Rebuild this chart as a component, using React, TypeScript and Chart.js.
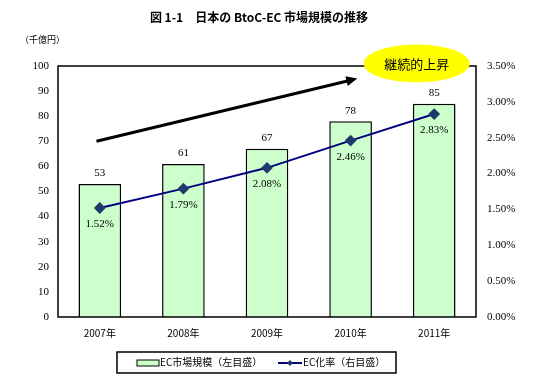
import React, { useEffect, useRef } from "react";
import { Chart, registerables } from "chart.js";

Chart.register(...registerables);

const categories = ["2007年", "2008年", "2009年", "2010年", "2011年"];
const marketSize = [53, 61, 67, 78, 85];
const ecRate = [1.52, 1.79, 2.08, 2.46, 2.83];
const titleText = "図 1-1　日本の BtoC-EC 市場規模の推移";
const unitText = "（千億円）";
const barLegend = "EC市場規模（左目盛）";
const lineLegend = "EC化率（右目盛）";
const calloutText = "継続的上昇";
// arrow annotation in data coordinates (category index, left-axis value)
const arrowStart = { x: -0.04, y: 70 };
const arrowEnd = { x: 3.08, y: 95 };
const calloutCenter = { x: 3.79, y: 101 };

const SERIF = "'Liberation Serif', 'Noto Sans CJK JP', serif";
const GOTHIC = "'Noto Sans CJK JP', sans-serif";

const decorPlugin = {
  id: "decor",
  afterDraw(chart: any) {
    const ctx = chart.ctx;
    const a = chart.chartArea;
    const xs = chart.scales.x;
    const yl = chart.scales.y;
    ctx.save();
    // plot border
    ctx.strokeStyle = "#000";
    ctx.lineWidth = 1.5;
    ctx.strokeRect(a.left, a.top, a.right - a.left, a.bottom - a.top);

    // title & unit
    ctx.fillStyle = "#000";
    ctx.font = "bold 12px " + GOTHIC;
    ctx.textAlign = "center";
    ctx.textBaseline = "middle";
    ctx.fillText(titleText, 259, 17);
    ctx.font = "9px " + GOTHIC;
    ctx.textAlign = "left";
    ctx.fillText(unitText, 20, 40);

    // bar value labels
    const barMeta = chart.getDatasetMeta(0);
    ctx.font = "11px " + SERIF;
    ctx.textAlign = "center";
    ctx.textBaseline = "bottom";
    barMeta.data.forEach((el: any, i: number) => {
      ctx.fillText(String(marketSize[i]), el.x, el.y - 5);
    });
    // line value labels
    const lineMeta = chart.getDatasetMeta(1);
    ctx.textBaseline = "top";
    lineMeta.data.forEach((el: any, i: number) => {
      ctx.fillText(ecRate[i].toFixed(2) + "%", el.x, el.y + 11);
    });

    // arrow
    const x1 = xs.getPixelForValue(arrowStart.x);
    const y1 = yl.getPixelForValue(arrowStart.y);
    const x2 = xs.getPixelForValue(arrowEnd.x);
    const y2 = yl.getPixelForValue(arrowEnd.y);
    const ang = Math.atan2(y2 - y1, x2 - x1);
    ctx.strokeStyle = "#000";
    ctx.lineWidth = 3;
    ctx.beginPath();
    ctx.moveTo(x1, y1);
    ctx.lineTo(x2 - 8 * Math.cos(ang), y2 - 8 * Math.sin(ang));
    ctx.stroke();
    ctx.fillStyle = "#000";
    ctx.beginPath();
    ctx.moveTo(x2, y2);
    ctx.lineTo(x2 - 11 * Math.cos(ang) + 5 * Math.sin(ang), y2 - 11 * Math.sin(ang) - 5 * Math.cos(ang));
    ctx.lineTo(x2 - 11 * Math.cos(ang) - 5 * Math.sin(ang), y2 - 11 * Math.sin(ang) + 5 * Math.cos(ang));
    ctx.closePath();
    ctx.fill();

    // callout ellipse
    const cx = xs.getPixelForValue(calloutCenter.x);
    const cy = yl.getPixelForValue(calloutCenter.y);
    ctx.fillStyle = "#ffff00";
    ctx.beginPath();
    ctx.ellipse(cx, cy, 53, 19, 0, 0, Math.PI * 2);
    ctx.fill();
    ctx.fillStyle = "#000";
    ctx.font = "13px " + GOTHIC;
    ctx.textAlign = "center";
    ctx.textBaseline = "middle";
    ctx.fillText(calloutText, cx, cy + 1);

    // legend
    ctx.strokeStyle = "#000";
    ctx.lineWidth = 1.5;
    ctx.strokeRect(117, 352, 279, 21);
    ctx.fillStyle = "#ccffcc";
    ctx.fillRect(137, 360, 22, 6);
    ctx.lineWidth = 1;
    ctx.strokeRect(137, 360, 22, 6);
    ctx.fillStyle = "#000";
    ctx.font = "10px " + GOTHIC;
    ctx.textAlign = "left";
    ctx.textBaseline = "middle";
    ctx.fillText(barLegend, 160, 362);
    ctx.strokeStyle = "#000080";
    ctx.lineWidth = 2;
    ctx.beginPath();
    ctx.moveTo(278, 363);
    ctx.lineTo(302, 363);
    ctx.stroke();
    ctx.fillStyle = "#1f3a6a";
    ctx.beginPath();
    ctx.moveTo(290, 360);
    ctx.lineTo(293, 363);
    ctx.lineTo(290, 366);
    ctx.lineTo(287, 363);
    ctx.closePath();
    ctx.fill();
    ctx.fillStyle = "#000";
    ctx.fillText(lineLegend, 303, 362);
    ctx.restore();
  },
};

export default function App() {
  const ref = useRef<HTMLCanvasElement>(null);
  useEffect(() => {
    document.body.style.margin = "0";
    const chart = new Chart(ref.current as HTMLCanvasElement, {
      data: {
        labels: categories,
        datasets: [
          {
            type: "bar" as const,
            label: barLegend,
            data: marketSize,
            yAxisID: "y",
            backgroundColor: "#ccffcc",
            borderColor: "#000",
            borderWidth: 1.5,
            barPercentage: 0.51,
            categoryPercentage: 1,
            order: 1,
          },
          {
            type: "line" as const,
            label: lineLegend,
            data: ecRate,
            yAxisID: "y1",
            borderColor: "#000080",
            borderWidth: 2,
            pointStyle: "rectRot",
            pointRadius: 4.5,
            pointBackgroundColor: "#1f3a6a",
            pointBorderColor: "#1f3a6a",
            order: 0,
          },
        ] as any,
      },
      options: {
        animation: false,
        responsive: false,
        layout: { padding: { top: 66, left: 0, right: 0, bottom: 0 } },
        plugins: { legend: { display: false }, tooltip: { enabled: false } },
        scales: {
          x: {
            grid: { display: false },
            border: { display: false },
            ticks: { color: "#000", font: { family: GOTHIC, size: 10 }, padding: 2 },
            afterFit: (s: any) => { s.height = 72; },
          },
          y: {
            position: "left",
            min: 0,
            max: 100,
            grid: { display: false },
            border: { display: false },
            ticks: { stepSize: 10, color: "#000", font: { family: SERIF, size: 11 }, padding: 1 },
            afterFit: (s: any) => { s.width = 58; },
          },
          y1: {
            position: "right",
            min: 0,
            max: 3.5,
            grid: { display: false },
            border: { display: false },
            ticks: {
              stepSize: 0.5,
              color: "#000",
              font: { family: SERIF, size: 11 },
              padding: 3,
              callback: (v: any) => Number(v).toFixed(2) + "%",
            },
            afterFit: (s: any) => { s.width = 74; },
          },
        },
      } as any,
      plugins: [decorPlugin],
    });
    return () => chart.destroy();
  }, []);
  return <canvas ref={ref} width={550} height={389} style={{ display: "block" }} />;
}
